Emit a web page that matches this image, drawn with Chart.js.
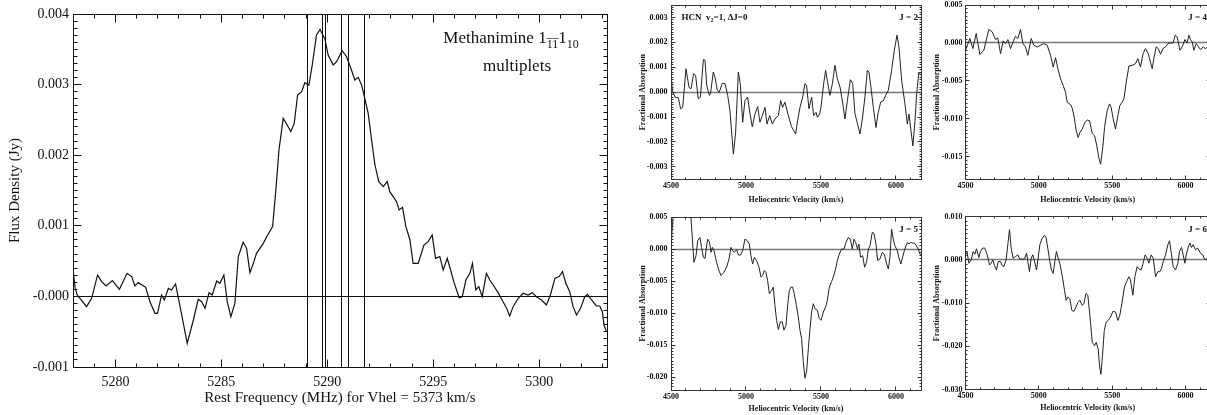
<!DOCTYPE html>
<html>
<head>
<meta charset="utf-8">
<script src="https://cdn.jsdelivr.net/npm/chart.js@4.4.1/dist/chart.umd.min.js"></script>
<style>
  html, body { margin: 0; padding: 0; background: #fff; overflow: hidden; }
  #page { position: relative; width: 1207px; height: 415px; overflow: hidden; background: #fff; }
  canvas { position: absolute; }
</style>
</head>
<body>
<div id="page">
  <canvas id="methanimine" width="620" height="415" style="left:0;top:0;width:620px;height:415px"></canvas>
  <canvas id="hcnJ2" width="310" height="210" style="left:615px;top:0;width:310px;height:210px"></canvas>
  <canvas id="hcnJ4" width="300" height="210" style="left:920px;top:0;width:300px;height:210px"></canvas>
  <canvas id="hcnJ5" width="310" height="210" style="left:615px;top:205px;width:310px;height:210px"></canvas>
  <canvas id="hcnJ6" width="300" height="210" style="left:920px;top:205px;width:300px;height:210px"></canvas>
</div>
<script>
// --- dados: espectro do metanimina (painel grande) ---
const methFreq = [
  5278.00, 5278.10, 5278.20, 5278.64, 5278.88, 5279.16, 5279.35, 5279.56, 5279.86, 5280.19,
  5280.55, 5280.77, 5280.92, 5281.08, 5281.43, 5281.63, 5281.87, 5281.99, 5282.18, 5282.31,
  5282.50, 5282.65, 5282.84, 5283.13, 5283.39, 5283.68, 5283.91, 5284.07, 5284.23, 5284.42,
  5284.57, 5284.78, 5284.93, 5285.12, 5285.28, 5285.45, 5285.64, 5285.80, 5286.03, 5286.19,
  5286.35, 5286.51, 5286.66, 5286.98, 5287.14, 5287.42, 5287.56, 5287.72, 5287.92, 5288.08,
  5288.28, 5288.44, 5288.60, 5288.79, 5288.94, 5289.13, 5289.29, 5289.49, 5289.66, 5289.89,
  5290.04, 5290.28, 5290.44, 5290.70, 5290.91, 5291.14, 5291.30, 5291.46, 5291.62, 5291.77,
  5291.93, 5292.09, 5292.25, 5292.43, 5292.64, 5292.83, 5292.95, 5293.11, 5293.27, 5293.39,
  5293.55, 5293.71, 5293.90, 5294.05, 5294.29, 5294.56, 5294.76, 5294.95, 5295.11, 5295.31,
  5295.47, 5295.66, 5295.82, 5295.97, 5296.22, 5296.37, 5296.54, 5296.73, 5296.85, 5297.01,
  5297.15, 5297.31, 5297.51, 5297.67, 5297.83, 5298.06, 5298.25, 5298.46, 5298.61, 5298.77,
  5299.01, 5299.24, 5299.48, 5299.67, 5299.87, 5300.11, 5300.34, 5300.53, 5300.74, 5300.94,
  5301.10, 5301.26, 5301.44, 5301.60, 5301.76, 5301.95, 5302.15, 5302.28, 5302.47, 5302.70,
  5302.86, 5302.98, 5303.06, 5303.17
];
const methFlux = [
  0.000380, 0.000120, 0.000020, -0.000145, -0.000027, 0.000304, 0.000209, 0.000148, 0.000223, 0.000101,
  0.000327, 0.000280, 0.000148, 0.000195, 0.000129, -0.000075, -0.000240, -0.000240, 0.000020, -0.000051,
  0.000114, 0.000091, 0.000176, -0.000263, -0.000665, -0.000334, -0.000042, -0.000075, -0.000169, 0.000053,
  0.000020, 0.000218, 0.000185, 0.000303, -0.000075, -0.000287, -0.000098, 0.000563, 0.000766, 0.000681,
  0.000336, 0.000468, 0.000610, 0.000751, 0.000846, 0.000988, 0.001460, 0.002074, 0.002522, 0.002442,
  0.002333, 0.002451, 0.002853, 0.002900, 0.003027, 0.002994, 0.003277, 0.003702, 0.003780, 0.003641,
  0.003419, 0.003277, 0.003325, 0.003480, 0.003395, 0.003206, 0.003065, 0.003103, 0.002994, 0.002805,
  0.002593, 0.002215, 0.001861, 0.001625, 0.001554, 0.001625, 0.001484, 0.001413, 0.001342, 0.001224,
  0.001262, 0.000988, 0.000799, 0.000468, 0.000468, 0.000728, 0.000775, 0.000869, 0.000539, 0.000563,
  0.000374, 0.000539, 0.000374, 0.000209, -0.000018, -0.000004, 0.000232, 0.000327, 0.000468, 0.000091,
  0.000138, -0.000004, 0.000327, 0.000232, 0.000162, 0.000053, -0.000051, -0.000169, -0.000277, -0.000145,
  -0.000027, 0.000044, 0.000020, 0.000053, -0.000004, -0.000051, -0.000121, 0.000020, 0.000256, 0.000280,
  0.000350, 0.000185, 0.000067, -0.000145, -0.000263, -0.000169, -0.000004, 0.000029, -0.000051, -0.000136,
  -0.000136, -0.000216, -0.000405, -0.000499
];
// linhas verticais dos multipletos (MHz)
const multipletFreq = [5289.05, 5289.78, 5289.90, 5290.68, 5291.01, 5291.76];
const methXTicks = [5280, 5285, 5290, 5295, 5300];
const methXLabels = ['5280', '5285', '5290', '5295', '5300'];
const methYTicks = [-0.001, 0, 0.001, 0.002, 0.003, 0.004];
const methYLabels = ['-0.001', '-0.000', '0.001', '0.002', '0.003', '0.004'];

// --- dados: HCN v2=1, J = 2, 4, 5, 6 ---
const j2Vel = [
  4500, 4509, 4527, 4549, 4564, 4578, 4600, 4620, 4633, 4651, 4664, 4682, 4696, 4716, 4727, 4738, 4756, 4764, 4782, 4793,
  4809, 4822, 4842, 4860, 4878, 4893, 4916, 4931, 4949, 4962, 4978, 4993, 5011, 5027, 5042, 5060, 5078, 5093, 5109, 5127,
  5140, 5158, 5176, 5193, 5216, 5231, 5244, 5260, 5282, 5304, 5331, 5344, 5360, 5378, 5393, 5404, 5420, 5438, 5451, 5467,
  5476, 5491, 5500, 5518, 5531, 5544, 5560, 5576, 5593, 5609, 5627, 5644, 5660, 5676, 5696, 5711, 5727, 5744, 5760, 5776,
  5793, 5809, 5820, 5833, 5849, 5867, 5882, 5898, 5916, 5931, 5949, 5971, 5989, 6007, 6020, 6038, 6049, 6060, 6076, 6087,
  6100, 6113, 6127, 6138, 6153, 6167
];
const j2Abs = [
  0.00074, 0.00007, -0.00020, -0.00023, -0.00067, -0.00061, 0.00094, 0.00020, 0.00013, 0.00074,
  0.00067, -0.00027, -0.00020, 0.00131, 0.00128, 0.00027, -0.00013, -0.00004, 0.00081, 0.00061,
  0.00007, 0.00000, 0.00036, 0.00034, -0.00013, -0.00074, -0.00249, -0.00162, 0.00081, 0.00034,
  -0.00121, -0.00034, -0.00020, -0.00088, -0.00139, -0.00088, -0.00058, -0.00121, -0.00094, -0.00061,
  -0.00128, -0.00094, -0.00128, -0.00108, -0.00094, -0.00034, -0.00061, -0.00040, -0.00094, -0.00139,
  -0.00168, -0.00115, -0.00061, -0.00020, 0.00034, 0.00027, -0.00067, -0.00020, -0.00094, -0.00081,
  -0.00101, -0.00088, -0.00061, 0.00034, 0.00088, 0.00040, -0.00013, 0.00034, 0.00108, 0.00054,
  0.00020, -0.00040, -0.00108, -0.00034, 0.00050, 0.00036, -0.00088, -0.00128, -0.00168, -0.00108,
  -0.00020, 0.00088, 0.00081, 0.00020, -0.00061, -0.00142, -0.00081, -0.00040, -0.00034, -0.00013,
  0.00007, 0.00088, 0.00168, 0.00229, 0.00182, 0.00047, 0.00000, -0.00047, -0.00128, -0.00088,
  -0.00155, -0.00216, -0.00115, -0.00007, 0.00081, 0.00067
];
const j4Vel = [
  4500, 4530, 4550, 4573, 4598, 4625, 4659, 4682, 4705, 4720, 4739, 4757, 4773, 4789, 4807, 4825, 4841, 4857, 4875, 4891,
  4909, 4925, 4948, 4966, 4989, 5034, 5057, 5080, 5098, 5114, 5130, 5148, 5166, 5182, 5193, 5216, 5227, 5239, 5255, 5268,
  5280, 5296, 5314, 5330, 5346, 5364, 5380, 5393, 5409, 5421, 5436, 5448, 5466, 5482, 5493, 5507, 5523, 5539, 5552, 5568,
  5580, 5596, 5614, 5637, 5659, 5675, 5693, 5711, 5727, 5746, 5761, 5773, 5784, 5800, 5814, 5830, 5846, 5864, 5880, 5898,
  5916, 5930, 5943, 5962, 5977, 5996, 6011, 6023, 6034, 6046, 6057, 6073, 6087, 6102, 6121, 6137, 6150
];
const j4Abs = [
  -0.00097, 0.00058, -0.00075, 0.00124, -0.00155, -0.00097, 0.00177, 0.00146, 0.00044, 0.00066,
  -0.00142, 0.00027, -0.00009, 0.00044, -0.00075, 0.00013, 0.00089, 0.00058, 0.00177, -0.00009,
  -0.00053, -0.00164, 0.00058, -0.00031, -0.00053, -0.00009, -0.00031, -0.00164, -0.00319, -0.00195,
  -0.00341, -0.00473, -0.00562, -0.00650, -0.00783, -0.00814, -0.00858, -0.00960, -0.01159, -0.01248,
  -0.01181, -0.01137, -0.01049, -0.01018, -0.01027, -0.01195, -0.01226, -0.01336, -0.01513, -0.01602,
  -0.01381, -0.01115, -0.00894, -0.00805, -0.00850, -0.01004, -0.01137, -0.00960, -0.00827, -0.00783,
  -0.00739, -0.00518, -0.00305, -0.00296, -0.00274, -0.00208, -0.00319, -0.00142, -0.00075, -0.00142,
  -0.00252, -0.00341, -0.00208, -0.00053, -0.00075, -0.00150, -0.00075, -0.00053, -0.00009, 0.00000,
  0.00000, 0.00102, 0.00080, -0.00097, -0.00053, 0.00044, 0.00000, 0.00102, 0.00044, 0.00013,
  -0.00097, -0.00009, -0.00044, -0.00089, -0.00053, -0.00075, -0.00053
];
const j5Vel = [
  4500, 4509, 4522, 4550, 4580, 4596, 4612, 4630, 4653, 4667, 4678, 4693, 4704, 4716, 4727, 4744, 4756, 4767, 4776, 4787,
  4804, 4820, 4833, 4853, 4871, 4887, 4900, 4911, 4922, 4938, 4949, 4964, 4978, 4993, 5009, 5022, 5033, 5044, 5056, 5071,
  5087, 5100, 5111, 5122, 5133, 5144, 5156, 5171, 5182, 5193, 5204, 5216, 5229, 5242, 5253, 5267, 5278, 5289, 5300, 5311,
  5322, 5336, 5349, 5360, 5371, 5382, 5393, 5404, 5416, 5427, 5438, 5449, 5460, 5476, 5489, 5500, 5516, 5531, 5542, 5556,
  5571, 5582, 5598, 5609, 5622, 5638, 5653, 5667, 5682, 5696, 5709, 5720, 5731, 5744, 5753, 5764, 5778, 5791, 5804, 5816,
  5827, 5842, 5853, 5867, 5878, 5893, 5909, 5922, 5938, 5949, 5960, 5971, 5982, 5993, 6009, 6022, 6033, 6044, 6056, 6067,
  6078, 6087, 6098, 6111, 6122, 6133, 6149, 6160, 6167
];
const j5Abs = [
  0.00000, 0.00360, 0.00700, 0.01000, 0.00700, 0.00495, 0.00700, 0.00600, -0.00207, -0.00103,
  0.00129, 0.00181, 0.00026, -0.00129, -0.00145, 0.00155, 0.00114, -0.00052, 0.00026, -0.00026,
  -0.00207, -0.00336, -0.00414, -0.00362, -0.00284, -0.00155, 0.00026, -0.00026, -0.00052, -0.00010,
  -0.00093, -0.00093, -0.00026, 0.00155, 0.00129, 0.00078, -0.00103, -0.00233, -0.00129, -0.00181,
  -0.00284, -0.00439, -0.00414, -0.00336, -0.00362, -0.00491, -0.00698, -0.00646, -0.00594, -0.00879,
  -0.01112, -0.01256, -0.01137, -0.01137, -0.01267, -0.01189, -0.00879, -0.00646, -0.00594, -0.00594,
  -0.00698, -0.00879, -0.01060, -0.01267, -0.01396, -0.01758, -0.02016, -0.01913, -0.01551, -0.01241,
  -0.00982, -0.00853, -0.00931, -0.00956, -0.01086, -0.01112, -0.00982, -0.00905, -0.00801, -0.00594,
  -0.00507, -0.00439, -0.00310, -0.00181, -0.00078, 0.00000, 0.00000, 0.00103, 0.00181, 0.00155,
  0.00000, 0.00155, 0.00103, 0.00000, 0.00078, -0.00129, -0.00103, -0.00284, -0.00207, 0.00000,
  0.00052, 0.00259, 0.00248, 0.00078, -0.00181, -0.00155, -0.00052, -0.00078, -0.00233, -0.00310,
  -0.00129, 0.00310, 0.00155, 0.00052, -0.00026, -0.00155, -0.00233, -0.00129, -0.00026, 0.00052,
  0.00103, 0.00078, 0.00103, 0.00093, 0.00093, 0.00062, 0.00000, -0.00078, -0.00103
];
const j6Vel = [
  4500, 4511, 4523, 4539, 4552, 4564, 4575, 4591, 4602, 4616, 4632, 4648, 4664, 4675, 4686, 4698, 4711, 4723, 4739, 4750,
  4761, 4777, 4791, 4800, 4811, 4825, 4841, 4857, 4870, 4886, 4902, 4916, 4925, 4936, 4948, 4959, 4970, 4984, 4995, 5007,
  5023, 5039, 5050, 5061, 5075, 5086, 5098, 5109, 5120, 5132, 5143, 5152, 5164, 5175, 5186, 5200, 5211, 5225, 5239, 5250,
  5266, 5280, 5296, 5307, 5321, 5334, 5348, 5364, 5380, 5391, 5405, 5414, 5423, 5434, 5446, 5459, 5473, 5489, 5505, 5523,
  5539, 5552, 5568, 5584, 5598, 5614, 5625, 5641, 5655, 5670, 5682, 5698, 5711, 5725, 5739, 5750, 5766, 5780, 5796, 5811,
  5825, 5836, 5848, 5864, 5880, 5891, 5905, 5916, 5932, 5948, 5959, 5973, 5984, 5996, 6005, 6018, 6030, 6041, 6052, 6068,
  6084, 6102, 6118, 6130, 6143, 6150
];
const j6Abs = [
  0.00117, 0.00179, -0.00078, 0.00000, 0.00195, 0.00132, 0.00257, 0.00055, 0.00195, 0.00273,
  0.00273, 0.00117, -0.00117, -0.00078, 0.00000, -0.00132, -0.00234, -0.00039, -0.00039, -0.00132,
  -0.00156, 0.00000, 0.00428, 0.00701, 0.00273, 0.00039, 0.00078, 0.00117, 0.00023, 0.00016,
  0.00023, 0.00156, -0.00039, -0.00273, 0.00039, 0.00117, -0.00023, -0.00234, 0.00039, 0.00351,
  0.00506, 0.00569, 0.00506, 0.00273, -0.00039, -0.00234, -0.00312, -0.00039, 0.00195, 0.00039,
  -0.00078, -0.00234, -0.00467, -0.00701, -0.00935, -0.00857, -0.00896, -0.01169, -0.01192, -0.01114,
  -0.00989, -0.00935, -0.01052, -0.01013, -0.00779, -0.00818, -0.01285, -0.01909, -0.01987, -0.01909,
  -0.02064, -0.02454, -0.02649, -0.02220, -0.01636, -0.01441, -0.01402, -0.01324, -0.01192, -0.01207,
  -0.01402, -0.01285, -0.00974, -0.00623, -0.00506, -0.00390, -0.00467, -0.00818, -0.00390, -0.00156,
  -0.00210, -0.00234, -0.00078, 0.00117, 0.00039, -0.00078, 0.00117, 0.00039, -0.00390, -0.00273,
  -0.00273, -0.00195, -0.00039, 0.00117, 0.00351, 0.00444, 0.00117, -0.00156, -0.00234, -0.00078,
  0.00195, 0.00288, 0.00117, -0.00078, 0.00117, 0.00288, 0.00390, 0.00288, 0.00351, 0.00234,
  0.00273, 0.00156, 0.00117, 0.00023, 0.00000, 0.00055
];
const velTicks = [4500, 5000, 5500, 6000];
const velLabels = ['4500', '5000', '5500', '6000'];
const j2YTicks = [-0.003, -0.002, -0.001, 0, 0.001, 0.002, 0.003];
const j2YLabels = ['-0.003', '-0.002', '-0.001', '0.000', '0.001', '0.002', '0.003'];
const j4YTicks = [-0.015, -0.010, -0.005, 0, 0.005];
const j4YLabels = ['-0.015', '-0.010', '-0.005', '0.000', '0.005'];
const j5YTicks = [-0.020, -0.015, -0.010, -0.005, 0, 0.005];
const j5YLabels = ['-0.020', '-0.015', '-0.010', '-0.005', '0.000', '0.005'];
const j6YTicks = [-0.030, -0.020, -0.010, 0, 0.010];
const j6YLabels = ['-0.030', '-0.020', '-0.010', '0.000', '0.010'];

const SERIF = '"Liberation Serif", "Times New Roman", serif';

// linha nítida em pixel inteiro
function crisp(p) { return Math.round(p - 0.5) + 0.5; }

// moldura estilo IDL: caixa fechada + marcas para dentro nos 4 lados
function axisFrame(o) {
  function marks(scale, step) {
    const out = [];
    const k0 = Math.ceil(scale.min / step - 1e-6), k1 = Math.floor(scale.max / step + 1e-6);
    for (let k = k0; k <= k1; k++) {
      const v = k * step;
      const major = scale.ticks.some(t => Math.abs(t.value - v) < step / 10);
      out.push({ p: crisp(scale.getPixelForValue(v)), major });
    }
    return out;
  }
  return {
    id: 'axisFrame',
    beforeDatasetsDraw(chart) {
      const { ctx, chartArea: a, scales: { x, y } } = chart;
      ctx.save();
      ctx.beginPath();
      ctx.rect(a.left, a.top, a.right - a.left, a.bottom - a.top);
      ctx.clip();
      ctx.strokeStyle = o.zeroColor;
      ctx.lineWidth = o.zeroWidth;
      ctx.beginPath();
      const py = crisp(y.getPixelForValue(0));
      ctx.moveTo(a.left, py);
      ctx.lineTo(a.right, py);
      ctx.stroke();
      ctx.strokeStyle = o.frameColor;
      ctx.lineWidth = 1;
      ctx.beginPath();
      (o.vlines || []).forEach(f => {
        const px = crisp(x.getPixelForValue(f));
        ctx.moveTo(px, a.top);
        ctx.lineTo(px, a.bottom);
      });
      ctx.stroke();
      ctx.restore();
    },
    afterDraw(chart) {
      const { ctx, chartArea: a, scales: { x, y } } = chart;
      ctx.save();
      ctx.strokeStyle = o.frameColor;
      ctx.lineWidth = 1;
      const L = crisp(a.left), R = crisp(a.right), T = crisp(a.top), B = crisp(a.bottom);
      ctx.strokeRect(L, T, R - L, B - T);
      ctx.beginPath();
      marks(x, o.xMinor).forEach(m => {
        const len = m.major ? o.major : o.minor;
        ctx.moveTo(m.p, B); ctx.lineTo(m.p, B - len);
        ctx.moveTo(m.p, T); ctx.lineTo(m.p, T + len);
      });
      marks(y, o.yMinor).forEach(m => {
        const len = m.major ? o.major : o.minor;
        ctx.moveTo(L, m.p); ctx.lineTo(L + len, m.p);
        ctx.moveTo(R, m.p); ctx.lineTo(R - len, m.p);
      });
      ctx.stroke();
      ctx.fillStyle = o.textColor;
      if (o.drawText) o.drawText(ctx, a);
      ctx.restore();
    }
  };
}

function spectrumChart(id, s) {
  const canvas = document.getElementById(id);
  const W = canvas.width, H = canvas.height;
  const noPad = sc => { sc.paddingLeft = 0; sc.paddingRight = 0; sc.paddingTop = 0; sc.paddingBottom = 0; };
  return new Chart(canvas, {
    type: 'line',
    data: {
      datasets: [{
        data: s.xs.map((v, i) => ({ x: v, y: s.ys[i] })),
        borderColor: s.lineColor,
        borderWidth: s.lineWidth,
        pointRadius: 0,
        tension: 0,
        fill: false
      }]
    },
    options: {
      responsive: false,
      animation: false,
      devicePixelRatio: 1,
      layout: { padding: { left: 0, top: s.area.top, right: W - s.area.right, bottom: 0 } },
      plugins: { legend: { display: false }, tooltip: { enabled: false } },
      scales: {
        x: {
          type: 'linear', min: s.xMin, max: s.xMax,
          grid: { display: false, drawTicks: false },
          border: { display: false },
          afterBuildTicks: sc => { sc.ticks = s.xTicks.map(v => ({ value: v })); },
          ticks: { callback: (v, i) => s.xLabels[i], padding: s.xTickPad, autoSkip: false, maxRotation: 0, font: s.tickFont, color: s.textColor },
          title: { display: true, text: s.xTitle, font: s.titleFont, color: s.textColor, padding: { top: 0, bottom: s.xTitlePad } },
          afterFit: sc => { sc.height = H - s.area.bottom; noPad(sc); }
        },
        y: {
          type: 'linear', min: s.yMin, max: s.yMax,
          grid: { display: false, drawTicks: false },
          border: { display: false },
          afterBuildTicks: sc => { sc.ticks = s.yTicks.map(v => ({ value: v })); },
          ticks: { callback: (v, i) => s.yLabels[i], padding: s.yTickPad, autoSkip: false, font: s.tickFont, color: s.textColor },
          title: { display: true, text: s.yTitle, font: s.titleFont, color: s.textColor, padding: { top: s.yTitlePad, bottom: 0 } },
          afterFit: sc => { sc.width = s.area.left; noPad(sc); }
        }
      }
    },
    plugins: [axisFrame(s)]
  });
}

// --- painel grande ---
spectrumChart('methanimine', {
  xs: methFreq, ys: methFlux,
  xMin: 5278, xMax: 5303.2, yMin: -0.001, yMax: 0.004,
  xTicks: methXTicks, xLabels: methXLabels, yTicks: methYTicks, yLabels: methYLabels,
  xMinor: 1, yMinor: 0.0001, major: 8, minor: 4,
  area: { left: 73, top: 14, right: 607, bottom: 367 },
  tickFont: { family: SERIF, size: 14 }, titleFont: { family: SERIF, size: 15 },
  xTitle: 'Rest Frequency (MHz) for Vhel = 5373 km/s', yTitle: 'Flux Density (Jy)',
  xTickPad: 6.5, yTickPad: 4, xTitlePad: 8, yTitlePad: 6,
  lineColor: '#111', lineWidth: 1.2, textColor: '#111',
  frameColor: '#111', zeroColor: '#111', zeroWidth: 1,
  vlines: multipletFreq,
  drawText(ctx, a) {
    const parts = [['Methanimine 1', 17, 0], ['11', 12, 4.5], ['1', 17, 0], ['10', 12, 4.5]];
    const base = a.top + 29;
    const widths = parts.map(p => { ctx.font = p[1] + 'px ' + SERIF; return ctx.measureText(p[0]).width; });
    const total = widths.reduce((s, w) => s + w, 0);
    let cx = a.left + 438 - total / 2;
    ctx.textBaseline = 'alphabetic';
    ctx.textAlign = 'left';
    parts.forEach((p, i) => {
      ctx.font = p[1] + 'px ' + SERIF;
      ctx.fillText(p[0], cx, base + p[2]);
      if (i === 1) ctx.fillText('\u2014', cx, base - 2.5);
      cx += widths[i];
    });
    ctx.font = '17px ' + SERIF;
    ctx.textAlign = 'center';
    ctx.fillText('multiplets', a.left + 444, a.top + 57);
  }
});

// --- painéis HCN ---
const smallBase = {
  xMin: 4500, xMax: 6167, xTicks: velTicks, xLabels: velLabels,
  xMinor: 100, major: 4, minor: 2,
  tickFont: { family: SERIF, size: 8, weight: 'bold' }, titleFont: { family: SERIF, size: 8, weight: 'bold' },
  xTitle: 'Heliocentric Velocity (km/s)', yTitle: 'Fractional Absorption',
  xTickPad: 2, yTickPad: 3.5,
  lineColor: '#222', lineWidth: 1, textColor: '#111',
  frameColor: '#333', zeroColor: '#777', zeroWidth: 1.5
};
function jLabel(txt) {
  return (ctx, a) => {
    ctx.font = 'bold 9px ' + SERIF;
    ctx.textAlign = 'right';
    ctx.textBaseline = 'alphabetic';
    ctx.fillText(txt, a.right - 3, a.top + 15);
  };
}

spectrumChart('hcnJ2', Object.assign({}, smallBase, {
  xs: j2Vel, ys: j2Abs, yMin: -0.0035, yMax: 0.0035,
  yTicks: j2YTicks, yLabels: j2YLabels, yMinor: 0.0001,
  area: { left: 56, top: 5, right: 306, bottom: 179.3 },
  xTitlePad: 5, yTitlePad: 23.5,
  drawText(ctx, a) {
    jLabel('J = 2')(ctx, a);
    ctx.textAlign = 'left';
    let x0 = a.left + 10.5;
    const b = a.top + 14.5;
    ctx.font = 'bold 9px ' + SERIF;
    ctx.fillText('HCN  v', x0, b);
    x0 += ctx.measureText('HCN  v').width;
    ctx.font = 'bold 6px ' + SERIF;
    ctx.fillText('2', x0, b + 2);
    x0 += ctx.measureText('2').width;
    ctx.font = 'bold 9px ' + SERIF;
    ctx.fillText('=1, \u0394J=0', x0, b);
  }
}));

spectrumChart('hcnJ4', Object.assign({}, smallBase, {
  xs: j4Vel, ys: j4Abs, yMin: -0.018, yMax: 0.005,
  yTicks: j4YTicks, yLabels: j4YLabels, yMinor: 0.0005,
  area: { left: 45.5, top: 5, right: 290, bottom: 179.3 },
  xTitlePad: 5, yTitlePad: 12, yTickPad: 3,
  drawText: jLabel('J = 4')
}));

spectrumChart('hcnJ5', Object.assign({}, smallBase, {
  xs: j5Vel, ys: j5Abs, yMin: -0.022, yMax: 0.005,
  yTicks: j5YTicks, yLabels: j5YLabels, yMinor: 0.0005,
  area: { left: 56, top: 12, right: 306, bottom: 185 },
  xTitlePad: 1, yTitlePad: 23.5,
  drawText: jLabel('J = 5')
}));

spectrumChart('hcnJ6', Object.assign({}, smallBase, {
  xs: j6Vel, ys: j6Abs, yMin: -0.030, yMax: 0.010,
  yTicks: j6YTicks, yLabels: j6YLabels, yMinor: 0.001,
  area: { left: 45.5, top: 11.7, right: 290, bottom: 184.5 },
  xTitlePad: 2, yTitlePad: 12, yTickPad: 3,
  drawText: jLabel('J = 6')
}));
</script>
</body>
</html>
